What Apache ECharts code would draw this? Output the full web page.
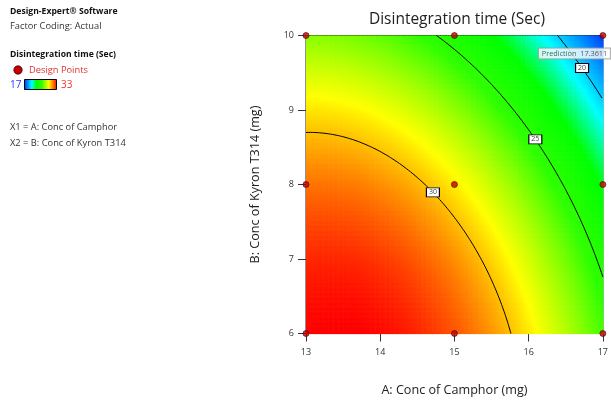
<!DOCTYPE html>
<html><head><meta charset="utf-8">
<script src="https://cdn.jsdelivr.net/npm/echarts@6/dist/echarts.min.js"></script>
<style>html,body{margin:0;padding:0;background:#fff}#c{width:611px;height:402px}</style>
</head><body><div id="c"></div>
<script>
// ---- data ----
const xTicks = [13, 14, 15, 16, 17];
const yTicks = [6, 7, 8, 9, 10];
const designA = [13, 15, 17, 13, 15, 17, 13, 15, 17];
const designB = [10, 10, 10, 8, 8, 8, 6, 6, 6];
// quadratic response-surface model in coded units
const coefNames = ['Intercept', 'A', 'B', 'AB', 'A^2', 'B^2'];
const coefs = [29.26, -4.18, -3.61, -0.65, -2.26, -1.20];
const contourLevels = [30, 25, 20];
const contourLabelA = [14.71, 16.09, 16.72];
const predictionPoint = [17, 10];
const predictionValue = '17.3611';
const colorStopValues = [17, 20.8, 23, 25.5, 29, 33];
const colorStopColors = ['#0028ff', '#00ffff', '#00ff00', '#30ff00', '#ffff00', '#ff0000'];
const legendMin = 17, legendMax = 33;

// ---- model helpers ----
const [b0, b1, b2, b12, b11, b22] = coefs;
const toU = A => (A - 15) / 2, toV = B => (B - 8) / 2;
const toA = u => 15 + 2 * u, toB = v => 8 + 2 * v;
function model(A, B) { const u = toU(A), v = toV(B); return b0 + b1*u + b2*v + b12*u*v + b11*u*u + b22*v*v; }
function solveQ(a, b, c) {
  const d = b*b - 4*a*c; if (d < 0) return [];
  const s = Math.sqrt(d); return [(-b + s) / (2*a), (-b - s) / (2*a)];
}
function contour(level) {
  const pts = []; const n = 400;
  for (let i = 0; i <= n; i++) {
    const u = -1 + 2*i/n;
    solveQ(b22, b2 + b12*u, b0 + b1*u + b11*u*u - level).forEach(v => { if (v >= -1 && v <= 1) pts.push([u, v]); });
    const v = -1 + 2*i/n;
    solveQ(b11, b1 + b12*v, b0 + b2*v + b22*v*v - level).forEach(u2 => { if (u2 >= -1 && u2 <= 1) pts.push([u2, v]); });
  }
  pts.sort((p, q) => p[0] - q[0]);
  return pts.map(p => [toA(p[0]), toB(p[1])]);
}
function labelB(level, A) {
  const u = toU(A);
  const r = solveQ(b22, b2 + b12*u, b0 + b1*u + b11*u*u - level).filter(v => v >= -1 && v <= 1);
  return toB(r[0]);
}
function hex(c) { return [1, 3, 5].map(i => parseInt(c.substr(i, 2), 16)); }
const stopRGB = colorStopColors.map(hex);
function colorOf(val) {
  const vs = colorStopValues;
  if (val <= vs[0]) return 'rgb(' + stopRGB[0].join(',') + ')';
  for (let k = 1; k < vs.length; k++) {
    if (val <= vs[k]) {
      const t = (val - vs[k-1]) / (vs[k] - vs[k-1]);
      const a = stopRGB[k-1], b = stopRGB[k];
      return 'rgb(' + a.map((x, i) => Math.round(x + (b[i] - x) * t)).join(',') + ')';
    }
  }
  return 'rgb(' + stopRGB[stopRGB.length - 1].join(',') + ')';
}

// surface cells
const N = 120, cells = [];
for (let i = 0; i < N; i++) for (let j = 0; j < N; j++) {
  const A0 = 13 + 4*i/N, A1 = 13 + 4*(i+1)/N, B0 = 6 + 4*j/N, B1 = 6 + 4*(j+1)/N;
  cells.push([A0, B0, A1, B1, model((A0+A1)/2, (B0+B1)/2)]);
}

const FONT = 'Open Sans';
const series = [{
  type: 'custom', clip: true, silent: true,
  encode: { x: [0, 2], y: [1, 3] },
  data: cells,
  renderItem(params, api) {
    const p0 = api.coord([api.value(0), api.value(1)]);
    const p1 = api.coord([api.value(2), api.value(3)]);
    return { type: 'rect', shape: { x: p0[0], y: p1[1], width: p1[0] - p0[0] + 0.6, height: p0[1] - p1[1] + 0.6 },
      style: { fill: colorOf(api.value(4)) } };
  }
}];
contourLevels.forEach((lv, k) => {
  series.push({
    type: 'line', data: contour(lv), showSymbol: false, silent: true, clip: true,
    lineStyle: { color: '#000', width: 1 }, z: 3,
    markPoint: {
      symbol: 'rect', symbolSize: [13, 9], silent: true,
      itemStyle: { color: '#fff', borderColor: '#000', borderWidth: 1 },
      label: { show: true, position: 'inside', formatter: String(lv), fontSize: 7, color: '#444', fontFamily: FONT },
      data: [{ coord: [contourLabelA[k], labelB(lv, contourLabelA[k])] }]
    }
  });
});
series.push({
  type: 'scatter', data: designA.map((a, i) => [a, designB[i]]), symbolSize: 6, z: 5, clip: false,
  itemStyle: { color: '#c00000', borderColor: '#500000', borderWidth: 0.8 }
});
series.push({
  type: 'scatter', data: [predictionPoint], symbolSize: 0, z: 6, clip: false,
  label: { show: true, position: [-64, 13], align: 'left', verticalAlign: 'top',
    formatter: 'Prediction  ' + predictionValue, fontSize: 7.3, color: '#333', fontFamily: FONT,
    backgroundColor: '#fff', borderColor: '#999', borderWidth: 1, padding: [1, 3, 0, 3], lineHeight: 9 }
});

const leftTexts = [
  { t: 'Design-Expert® Software', y: 11.5, bold: true, c: '#111' },
  { t: 'Factor Coding: Actual', y: 26.5, c: '#333' },
  { t: 'Disintegration time (Sec)', y: 55, bold: true, c: '#111' },
  { t: 'X1 = A: Conc of Camphor', y: 127.5, c: '#333' },
  { t: 'X2 = B: Conc of Kyron T314', y: 143, c: '#333' }
];
const graphic = leftTexts.map(o => ({ type: 'text', x: 10, y: o.y, style: { text: o.t, fill: o.c,
  font: (o.bold ? 'bold 8.6px ' : '9.3px ') + '"' + FONT + '"', textVerticalAlign: 'middle' } }));
graphic.push(
  { type: 'circle', shape: { cx: 18, cy: 70, r: 4.2 }, style: { fill: '#c00000', stroke: '#500000', lineWidth: 0.8 } },
  { type: 'text', x: 29, y: 70, style: { text: 'Design Points', fill: '#e03030', font: '9.3px "' + FONT + '"', textVerticalAlign: 'middle' } },
  { type: 'text', x: 10, y: 85, style: { text: String(legendMin), fill: '#3030ff', font: '10px "' + FONT + '"', textVerticalAlign: 'middle' } },
  { type: 'rect', shape: { x: 24.5, y: 79.5, width: 32, height: 10 }, style: { stroke: '#000', lineWidth: 1,
    fill: new echarts.graphic.LinearGradient(0, 0, 1, 0, colorStopColors.map((c, i) => ({ offset: (colorStopValues[i] - legendMin) / (legendMax - legendMin), color: c }))) } },
  { type: 'text', x: 61, y: 85, style: { text: String(legendMax), fill: '#ff3030', font: '10px "' + FONT + '"', textVerticalAlign: 'middle' } },
  { type: 'text', x: 457, y: 20, style: { text: 'Disintegration time (Sec)', fill: '#222', font: '15.5px "' + FONT + '"', textAlign: 'center', textVerticalAlign: 'middle' } }
);

const axisCommon = {
  type: 'value', nameLocation: 'middle',
  axisLine: { show: true, lineStyle: { color: '#222', width: 1 } },
  axisTick: { show: true, length: 8, lineStyle: { color: '#333' } },
  splitLine: { show: false },
  axisLabel: { fontSize: 9, color: '#333', fontFamily: FONT },
  nameTextStyle: { fontSize: 12.6, color: '#222', fontFamily: FONT }
};
const chart = echarts.init(document.getElementById('c'), null, { renderer: 'canvas' });
chart.setOption({
  animation: false,
  backgroundColor: '#fff',
  grid: { left: 306, top: 35.5, right: 3, bottom: 68.5, show: true, borderColor: '#222', borderWidth: 1, backgroundColor: 'transparent' },
  xAxis: Object.assign({}, axisCommon, { min: xTicks[0], max: xTicks[xTicks.length - 1], interval: 1,
    name: 'A: Conc of Camphor (mg)', nameGap: 50, axisLabel: Object.assign({}, axisCommon.axisLabel, { margin: 14 }) }),
  yAxis: Object.assign({}, axisCommon, { min: yTicks[0], max: yTicks[yTicks.length - 1], interval: 1,
    name: 'B: Conc of Kyron T314 (mg)', nameGap: 44, nameRotate: 90, axisLabel: Object.assign({}, axisCommon.axisLabel, { margin: 12 }) }),
  graphic: graphic,
  series: series
});
</script></body></html>
